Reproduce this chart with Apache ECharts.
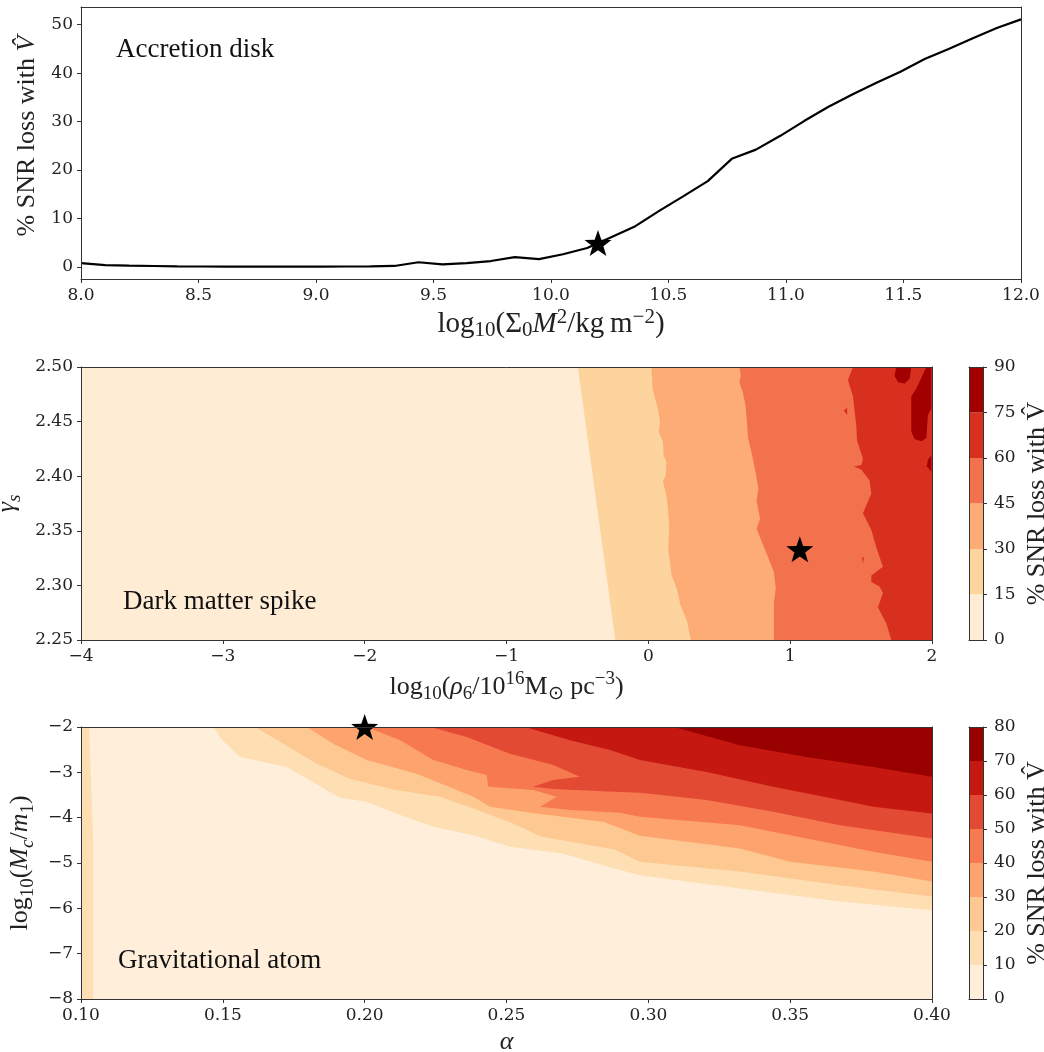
<!DOCTYPE html>
<html>
<head>
<meta charset="utf-8">
<script src="https://cdn.jsdelivr.net/npm/echarts@6/dist/echarts.min.js"></script>
<style>
html, body { margin: 0; padding: 0; background: #fff; }
#chart { width: 1044px; height: 1052px; }
</style>
</head>
<body>
<div id="chart"></div>
<script>
// ---------- Accretion disk: SNR loss along log10(Sigma0 M^2) ----------
const diskX = [8.000, 8.103, 8.205, 8.308, 8.410, 8.513, 8.615, 8.718, 8.821, 8.923,
               9.026, 9.128, 9.231, 9.333, 9.436, 9.538, 9.641, 9.744, 9.846, 9.949,
               10.051, 10.154, 10.256, 10.359, 10.462, 10.564, 10.667, 10.769, 10.872, 10.974,
               11.077, 11.179, 11.282, 11.385, 11.487, 11.590, 11.692, 11.795, 11.897, 12.000];
const diskLoss = [0.75, 0.35, 0.25, 0.17, 0.10, 0.07, 0.05, 0.04, 0.04, 0.04,
                  0.05, 0.07, 0.10, 0.18, 0.95, 0.50, 0.78, 1.20, 2.00, 1.60,
                  2.60, 3.90, 6.10, 8.40, 11.6, 14.6, 17.7, 22.3, 24.2, 27.0,
                  30.1, 33.0, 35.6, 38.0, 40.3, 42.9, 45.0, 47.2, 49.3, 51.1];
const diskStar = [10.2, 4.9];
const diskXTicks = [8.0, 8.5, 9.0, 9.5, 10.0, 10.5, 11.0, 11.5, 12.0];
const diskYTicks = [0, 10, 20, 30, 40, 50];

// ---------- Dark matter spike: filled iso-loss bands ----------
const spikeLevels = [0, 15, 30, 45, 60, 75, 90];
const spikeColors = ['#feedd4', '#fdd49e', '#fdac76', '#f3724e', '#d7301f', '#a20000'];
const spikeXTicks = [-4, -3, -2, -1, 0, 1, 2];
const spikeYTicks = [2.25, 2.30, 2.35, 2.40, 2.45, 2.50];
const spikeStar = [1.068, 2.333];
// iso-loss edges, traced from gamma_s = 2.50 down to 2.25
const spikeEdge15 = [[-0.497, 2.50], [-0.233, 2.25]];
const spikeEdge30 = [[0.022, 2.500], [0.030, 2.480], [0.066, 2.462], [0.083, 2.450], [0.073, 2.441],
                     [0.103, 2.431], [0.108, 2.419], [0.127, 2.413], [0.122, 2.401], [0.103, 2.395],
                     [0.127, 2.383], [0.140, 2.367], [0.147, 2.352], [0.140, 2.334], [0.152, 2.322],
                     [0.164, 2.309], [0.201, 2.297], [0.226, 2.282], [0.274, 2.267], [0.299, 2.250]];
const spikeEdge45 = [[0.641, 2.500], [0.653, 2.492], [0.641, 2.486], [0.666, 2.477], [0.685, 2.465],
                     [0.695, 2.450], [0.703, 2.435], [0.727, 2.422], [0.751, 2.407], [0.776, 2.389],
                     [0.763, 2.377], [0.788, 2.361], [0.763, 2.352], [0.800, 2.340], [0.837, 2.328],
                     [0.886, 2.312], [0.898, 2.297], [0.886, 2.285], [0.886, 2.267], [0.886, 2.250]];
const spikeEdge60 = [[1.443, 2.500], [1.407, 2.488], [1.443, 2.473], [1.467, 2.445], [1.471, 2.433],
                     [1.513, 2.416], [1.502, 2.410], [1.448, 2.409], [1.502, 2.406], [1.560, 2.396],
                     [1.572, 2.384], [1.513, 2.366], [1.572, 2.351], [1.607, 2.335], [1.654, 2.317],
                     [1.572, 2.309], [1.572, 2.303], [1.630, 2.299], [1.654, 2.293], [1.619, 2.280],
                     [1.678, 2.265], [1.713, 2.250]];
const spikeSpecks60 = [
  [[1.378, 2.460], [1.402, 2.463], [1.402, 2.456]],
  [[1.506, 2.325], [1.520, 2.326], [1.514, 2.320]]
];
const spikeIsles75 = [
  [[1.748, 2.500], [1.854, 2.500], [1.842, 2.489], [1.807, 2.485], [1.760, 2.486], [1.736, 2.492]],
  [[1.960, 2.500], [1.995, 2.500], [1.995, 2.462], [1.971, 2.456], [1.960, 2.435], [1.925, 2.432],
   [1.877, 2.434], [1.854, 2.441], [1.854, 2.473], [1.889, 2.480]],
  [[1.995, 2.419], [1.971, 2.415], [1.964, 2.409], [1.995, 2.404]]
];

// ---------- Gravitational atom: filled iso-loss bands ----------
const atomLevels = [0, 10, 20, 30, 40, 50, 60, 70, 80];
const atomColors = ['#ffefda', '#fedeb3', '#fdc891', '#fda46e', '#f67950', '#e34a34', '#c51810', '#990000'];
const atomXTicks = [0.10, 0.15, 0.20, 0.25, 0.30, 0.35, 0.40];
const atomYTicks = [-8, -7, -6, -5, -4, -3, -2];
const atomStar = [0.20, -2.0];
// iso-loss edges, traced from the top edge to alpha = 0.40
const atomEdge10 = [[0.1466, -2], [0.1500, -2.30], [0.1560, -2.66], [0.1725, -2.88], [0.1913, -3.56],
                    [0.2007, -3.65], [0.2125, -3.94], [0.2242, -4.20], [0.2383, -4.39], [0.2512, -4.64],
                    [0.2697, -4.79], [0.2881, -5.12], [0.2970, -5.27], [0.3323, -5.56], [0.3676, -5.85],
                    [0.40, -6.04]];
const atomEdge20 = [[0.1613, -2], [0.1713, -2.37], [0.1831, -2.81], [0.1948, -3.14], [0.2101, -3.38],
                    [0.2266, -3.54], [0.2383, -3.80], [0.2524, -4.13], [0.2624, -4.42], [0.2881, -4.70],
                    [0.2970, -4.97], [0.3323, -5.19], [0.3676, -5.49], [0.40, -5.74]];
const atomEdge30 = [[0.1796, -2], [0.1889, -2.37], [0.2007, -2.73], [0.2183, -3.03], [0.2383, -3.54],
                    [0.2442, -3.76], [0.2606, -3.91], [0.2841, -4.09], [0.2970, -4.40], [0.3323, -4.68],
                    [0.3500, -4.97], [0.3793, -5.19], [0.40, -5.41]];
const atomEdge40 = [[0.2007, -2], [0.2125, -2.29], [0.2242, -2.73], [0.2360, -2.95], [0.2430, -3.06],
                    [0.2436, -3.32], [0.2594, -3.39], [0.2677, -3.54], [0.2618, -3.76], [0.2724, -3.83],
                    [0.2900, -3.89], [0.2970, -3.98], [0.3323, -4.17], [0.3558, -4.46], [0.3793, -4.75],
                    [0.40, -4.97]];
const atomEdge50 = [[0.2231, -2], [0.2360, -2.22], [0.2512, -2.59], [0.2665, -2.84], [0.2759, -3.10],
                    [0.2665, -3.17], [0.2594, -3.32], [0.2665, -3.37], [0.2841, -3.42], [0.2970, -3.45],
                    [0.3206, -3.61], [0.3440, -3.87], [0.3676, -4.17], [0.40, -4.46]];
const atomEdge60 = [[0.2565, -2], [0.2724, -2.29], [0.2865, -2.51], [0.2970, -2.73], [0.3206, -2.99],
                    [0.3440, -3.32], [0.3676, -3.61], [0.3793, -3.76], [0.40, -3.91]];
const atomEdge70 = [[0.3090, -2], [0.3323, -2.40], [0.3558, -2.66], [0.3793, -2.88], [0.40, -3.10]];
const atomStrip10 = [[0.100, -2], [0.1029, -2], [0.1043, -4.5], [0.1043, -8], [0.100, -8]];

// ---------- shared styling ----------
const INK = '#222';
const FRAME = '#333';
const SERIF = 'Liberation Serif';
const tickText = { fontFamily: 'DejaVu Serif', fontSize: 17, color: INK };
const rich = {
  r:    { fontFamily: SERIF, fontSize: 26, color: INK, lineHeight: 34 },
  i:    { fontFamily: SERIF, fontSize: 26, fontStyle: 'italic', color: INK, lineHeight: 34 },
  m:    { fontFamily: SERIF, fontSize: 29, color: INK, lineHeight: 34 },
  mi:   { fontFamily: SERIF, fontSize: 29, fontStyle: 'italic', color: INK, lineHeight: 34 },
  sub:  { fontFamily: SERIF, fontSize: 19, color: INK, verticalAlign: 'bottom', lineHeight: 34 },
  msub: { fontFamily: SERIF, fontSize: 21, color: INK, verticalAlign: 'bottom', lineHeight: 34 },
  msup: { fontFamily: SERIF, fontSize: 21, color: INK, verticalAlign: 'top', lineHeight: 34 },
  isub: { fontFamily: SERIF, fontSize: 19, fontStyle: 'italic', color: INK, verticalAlign: 'bottom', lineHeight: 34 },
  sup:  { fontFamily: SERIF, fontSize: 19, color: INK, verticalAlign: 'top', lineHeight: 34 }
};
const minus = v => (v < 0 ? '\u2212' + Math.abs(v) : String(v));

const STAR = 'path://M0,-10L2.35,-3.24L9.51,-3.09L3.8,1.24L5.88,8.09L0,4L-5.88,8.09L-3.8,1.24L-9.51,-3.09L-2.35,-3.24Z';

// axis with labels and outward ticks
function labelAxis(grid, position, min, max, ticks, fmt, extra) {
  return Object.assign({
    type: 'value', gridIndex: grid, position: position, min: min, max: max, z: 10,
    axisLine: { show: true, onZero: false, lineStyle: { color: FRAME, width: 1 } },
    axisTick: { show: true, length: 4, customValues: ticks, lineStyle: { color: FRAME } },
    axisLabel: Object.assign({ show: true, customValues: ticks, formatter: fmt, margin: 8 }, tickText),
    splitLine: { show: false }
  }, extra || {});
}
// plain frame edge
function frameAxis(grid, position, min, max) {
  return {
    type: 'value', gridIndex: grid, position: position, min: min, max: max, z: 10,
    axisLine: { show: true, onZero: false, lineStyle: { color: FRAME, width: 1 } },
    axisTick: { show: false }, axisLabel: { show: false }, splitLine: { show: false }
  };
}

// filled polygons drawn in order, later ones on top
function patchSeries(xi, yi, patches) {
  return {
    type: 'custom', xAxisIndex: xi, yAxisIndex: yi, clip: true, silent: true, z: 2,
    data: patches.map((p, i) => [i]),
    renderItem: function (params, api) {
      const p = patches[params.dataIndex];
      return {
        type: 'polygon',
        shape: { points: p.pts.map(q => api.coord(q)) },
        style: { fill: p.color }
      };
    }
  };
}

// spike band patches
const SX = [-4, 2], SY = [2.25, 2.50];
const spikePatches = [{ pts: [[SX[0], SY[0]], [SX[1], SY[0]], [SX[1], SY[1]], [SX[0], SY[1]]], color: spikeColors[0] }];
[spikeEdge15, spikeEdge30, spikeEdge45, spikeEdge60].forEach((e, k) => {
  spikePatches.push({ pts: e.concat([[SX[1], SY[0]], [SX[1], SY[1]]]), color: spikeColors[k + 1] });
});
spikeSpecks60.forEach(p => spikePatches.push({ pts: p, color: spikeColors[4] }));
spikeIsles75.forEach(p => spikePatches.push({ pts: p, color: spikeColors[5] }));

// atom band patches
const AX = [0.10, 0.40], AY = [-8, -2];
const atomPatches = [{ pts: [[AX[0], AY[0]], [AX[1], AY[0]], [AX[1], AY[1]], [AX[0], AY[1]]], color: atomColors[0] }];
atomPatches.push({ pts: atomStrip10, color: atomColors[1] });
[atomEdge10, atomEdge20, atomEdge30, atomEdge40, atomEdge50, atomEdge60, atomEdge70].forEach((e, k) => {
  atomPatches.push({ pts: e.concat([[AX[1], AY[1]]]), color: atomColors[k + 1] });
});

// colour-bar patches
function barPatches(levels, colors) {
  return colors.map((c, k) => ({ pts: [[0, levels[k]], [1, levels[k]], [1, levels[k + 1]], [0, levels[k + 1]]], color: c }));
}

const gridBase = { containLabel: false, outerBoundsMode: 'none' };
const grids = [
  Object.assign({ left: 81, top: 7, width: 940, height: 272 }, gridBase),
  Object.assign({ left: 81, top: 367, width: 851, height: 273 }, gridBase),
  Object.assign({ left: 81, top: 727, width: 851, height: 272 }, gridBase),
  Object.assign({ left: 969, top: 367, width: 14, height: 273 }, gridBase),
  Object.assign({ left: 969, top: 727, width: 14, height: 272 }, gridBase)
];

const cbName = '{r|% SNR loss with V\u0302}';

const xAxes = [
  labelAxis(0, 'bottom', 8, 12, diskXTicks, v => v.toFixed(1), {
    name: '{m|log}{msub|10}{m|(Σ}{msub|0}{mi|M}{msup|2}{m|/kg\u2009m}{msup|\u22122}{m|)}',
    nameLocation: 'middle', nameGap: 28, nameTextStyle: { rich: rich }
  }),
  frameAxis(0, 'top', 8, 12),
  labelAxis(1, 'bottom', -4, 2, spikeXTicks, minus, {
    name: '{r|log}{sub|10}{r|(}{i|ρ}{sub|6}{r|/10}{sup|16}{r|M}{sub|⊙}{r| pc}{sup|\u22123}{r|)}',
    nameLocation: 'middle', nameGap: 30, nameTextStyle: { rich: rich }
  }),
  frameAxis(1, 'top', -4, 2),
  labelAxis(2, 'bottom', 0.10, 0.40, atomXTicks, v => v.toFixed(2), {
    name: '{i|α}', nameLocation: 'middle', nameGap: 26, nameTextStyle: { rich: rich }
  }),
  frameAxis(2, 'top', 0.10, 0.40),
  frameAxis(3, 'bottom', 0, 1),
  frameAxis(3, 'top', 0, 1),
  frameAxis(4, 'bottom', 0, 1),
  frameAxis(4, 'top', 0, 1)
];

const yAxes = [
  labelAxis(0, 'left', -2.51, 53.65, diskYTicks, v => String(v), {
    name: '{r|% SNR loss with }{i|V\u0302}', nameLocation: 'middle', nameGap: 36, nameRotate: 90,
    nameTextStyle: { rich: rich, padding: [0, 0, 0, 14] }
  }),
  frameAxis(0, 'right', -2.51, 53.65),
  labelAxis(1, 'left', 2.25, 2.50, spikeYTicks, v => v.toFixed(2), {
    name: '{i|γ}{isub|s}', nameLocation: 'middle', nameGap: 47, nameRotate: 90,
    nameTextStyle: { rich: rich }
  }),
  frameAxis(1, 'right', 2.25, 2.50),
  labelAxis(2, 'left', -8, -2, atomYTicks, minus, {
    name: '{r|log}{sub|10}{r|(}{i|M}{isub|c}{r|/}{i|m}{sub|1}{r|)}', nameLocation: 'middle',
    nameGap: 40, nameRotate: 90, nameTextStyle: { rich: rich }
  }),
  frameAxis(2, 'right', -8, -2),
  frameAxis(3, 'left', 0, 90),
  labelAxis(3, 'right', 0, 90, spikeLevels, v => String(v), {
    axisLabel: Object.assign({ show: true, customValues: spikeLevels, formatter: v => String(v), margin: 11 }, tickText),
    name: cbName, nameLocation: 'middle', nameGap: 37, nameRotate: 90, nameTextStyle: { rich: rich }
  }),
  frameAxis(4, 'left', 0, 80),
  labelAxis(4, 'right', 0, 80, atomLevels, v => String(v), {
    axisLabel: Object.assign({ show: true, customValues: atomLevels, formatter: v => String(v), margin: 11 }, tickText),
    name: cbName, nameLocation: 'middle', nameGap: 37, nameRotate: 90, nameTextStyle: { rich: rich }
  })
];

const starSeries = (xi, yi, pt) => ({
  type: 'scatter', xAxisIndex: xi, yAxisIndex: yi, clip: false, silent: true, z: 6,
  symbol: STAR, symbolSize: [27, 26], itemStyle: { color: '#000', opacity: 1 },
  data: [pt]
});

const option = {
  animation: false,
  backgroundColor: '#fff',
  grid: grids,
  xAxis: xAxes,
  yAxis: yAxes,
  series: [
    patchSeries(2, 2, spikePatches),
    patchSeries(4, 4, atomPatches),
    patchSeries(6, 7, barPatches(spikeLevels, spikeColors)),
    patchSeries(8, 9, barPatches(atomLevels, atomColors)),
    {
      type: 'line', xAxisIndex: 0, yAxisIndex: 0, showSymbol: false, silent: true, z: 4,
      lineStyle: { color: '#000', width: 2.2 },
      data: diskX.map((x, i) => [x, diskLoss[i]])
    },
    starSeries(0, 0, diskStar),
    starSeries(2, 2, spikeStar),
    starSeries(4, 4, atomStar)
  ],
  graphic: [
    { type: 'text', left: 116, top: 36, z: 20, style: { text: 'Accretion disk', fontFamily: SERIF, fontSize: 27, fill: '#111' } },
    { type: 'text', left: 123, top: 588, z: 20, style: { text: 'Dark matter spike', fontFamily: SERIF, fontSize: 27, fill: '#111' } },
    { type: 'text', left: 118, top: 947, z: 20, style: { text: 'Gravitational atom', fontFamily: SERIF, fontSize: 27, fill: '#111' } }
  ]
};

const chart = echarts.init(document.getElementById('chart'), null, { renderer: 'canvas' });
chart.setOption(option);
</script>
</body>
</html>
